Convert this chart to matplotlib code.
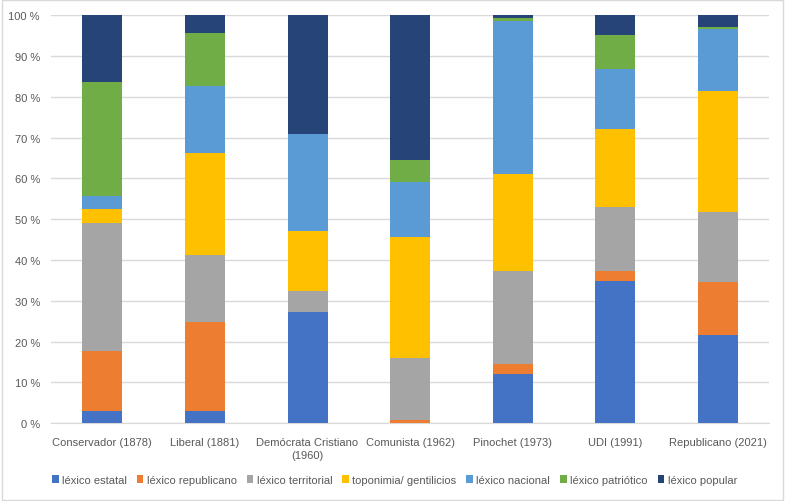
import matplotlib
matplotlib.use("Agg")
import matplotlib.pyplot as plt
import numpy as np

plt.rcParams['font.family'] = ['Liberation Sans', 'DejaVu Sans']

# Categories (parties) and series values in percent
partidos = ["Conservador (1878)", "Liberal (1881)", "Demócrata Cristiano\n(1960)",
            "Comunista (1962)", "Pinochet (1973)", "UDI (1991)", "Republicano (2021)"]

estatal     = [3.0, 3.0, 27.2, 0.0, 12.0, 34.9, 21.7]
republicano = [14.8, 21.9, 0.0, 0.8, 2.5, 2.3, 13.0]
territorial = [31.3, 16.3, 5.3, 15.1, 22.7, 15.7, 17.1]
toponimia   = [3.3, 25.0, 14.6, 29.6, 23.8, 19.3, 29.7]
nacional    = [3.3, 16.3, 23.8, 13.5, 37.5, 14.5, 15.1]
patriotico  = [27.9, 13.2, 0.0, 5.6, 0.8, 8.5, 0.5]
popular     = [16.4, 4.3, 29.1, 35.4, 0.7, 4.8, 2.9]

series = [
    ("léxico estatal", estatal, "#4472C4"),
    ("léxico republicano", republicano, "#ED7D31"),
    ("léxico territorial", territorial, "#A5A5A5"),
    ("toponimia/ gentilicios", toponimia, "#FFC000"),
    ("léxico nacional", nacional, "#5B9BD5"),
    ("léxico patriótico", patriotico, "#70AD47"),
    ("léxico popular", popular, "#264478"),
]

fig = plt.figure(figsize=(7.85, 5.02), dpi=100)
ax = fig.add_axes([0.065, 0.155, 0.915, 0.813])

x = np.arange(len(partidos))
bottom = np.zeros(len(partidos))
for name, vals, col in series:
    v = np.array(vals)
    ax.bar(x, v, 0.39, bottom=bottom, color=col, label=name, zorder=3)
    bottom += v

ax.set_xlim(-0.5, len(partidos) - 0.5)
ax.set_ylim(0, 100)
ax.set_yticks(np.arange(0, 101, 10))
ax.set_yticklabels([f"{t} %" for t in range(0, 101, 10)])
ax.set_xticks(x)
ax.set_xticklabels(partidos, linespacing=1.35)
ax.tick_params(axis='both', length=0, colors='#595959', labelsize=8)
ax.tick_params(axis='x', pad=10)
ax.tick_params(axis='y', pad=8)
ax.grid(axis='y', color='#D9D9D9', linewidth=1, zorder=0)
for s in ['top', 'right', 'left']:
    ax.spines[s].set_visible(False)
ax.spines['bottom'].set_color('#D9D9D9')

fig.legend(*ax.get_legend_handles_labels(), loc='center', bbox_to_anchor=(0.5025, 0.042),
           ncol=7, frameon=False, fontsize=8, handlelength=0.6, handleheight=0.6,
           handletextpad=0.3, columnspacing=0.9, labelcolor='#595959')

fig.patches.append(plt.Rectangle((0.002, 0.002), 0.996, 0.996, transform=fig.transFigure,
                                 fill=False, edgecolor='#D9D9D9', linewidth=1))

fig.savefig("out.png", dpi=100)
